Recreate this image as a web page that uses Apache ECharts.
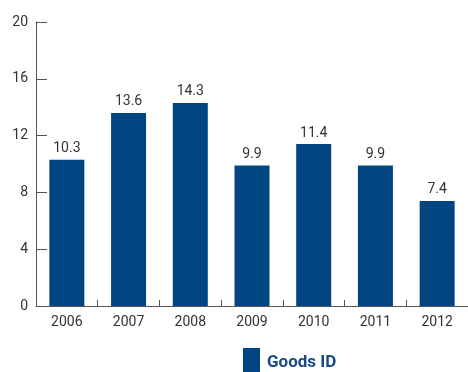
<!DOCTYPE html>
<html><head><meta charset="utf-8">
<script src="https://cdn.jsdelivr.net/npm/echarts@6/dist/echarts.min.js"></script>
<style>html,body{margin:0;padding:0;background:#fff}#c{width:468px;height:372px}</style>
</head><body><div id="c"></div>
<script>
const categories = ['2006','2007','2008','2009','2010','2011','2012'];
const goodsID = [10.3, 13.6, 14.3, 9.9, 11.4, 9.9, 7.4];
const seriesName = 'Goods ID';
const chart = echarts.init(document.getElementById('c'));
const font = 'Roboto';
chart.setOption({
  animation: false,
  textStyle: {fontFamily: font},
  grid: {left: 36, right: 0, top: 22, bottom: 66},
  legend: {
    data: [seriesName], top: 348, left: 243, padding: 0,
    itemWidth: 17, itemHeight: 30, itemGap: 7,
    icon: 'rect',
    textStyle: {fontFamily: font, fontSize: 17, fontWeight: 'bold', color: '#1a4a85', padding: [0, 0, 0, 2]}
  },
  xAxis: {
    type: 'category', data: categories,
    axisLine: {lineStyle: {color: '#555', width: 1}},
    axisTick: {show: true, inside: true, length: 6, lineStyle: {color: '#555'}},
    axisLabel: {color: '#333', fontSize: 14, margin: 9, fontFamily: font}
  },
  yAxis: {
    type: 'value', min: 0, max: 20, interval: 4,
    axisLine: {show: true, lineStyle: {color: '#555', width: 1}},
    axisTick: {show: true, inside: true, length: 11, lineStyle: {color: '#555'}},
    splitLine: {show: false},
    axisLabel: {color: '#333', fontSize: 14, margin: 8, fontFamily: font}
  },
  series: [{
    name: seriesName, type: 'bar', data: goodsID,
    barWidth: 35,
    itemStyle: {color: '#004582'},
    label: {show: true, position: 'top', color: '#333', fontSize: 14, distance: 4, fontFamily: font}
  }]
});
</script></body></html>
